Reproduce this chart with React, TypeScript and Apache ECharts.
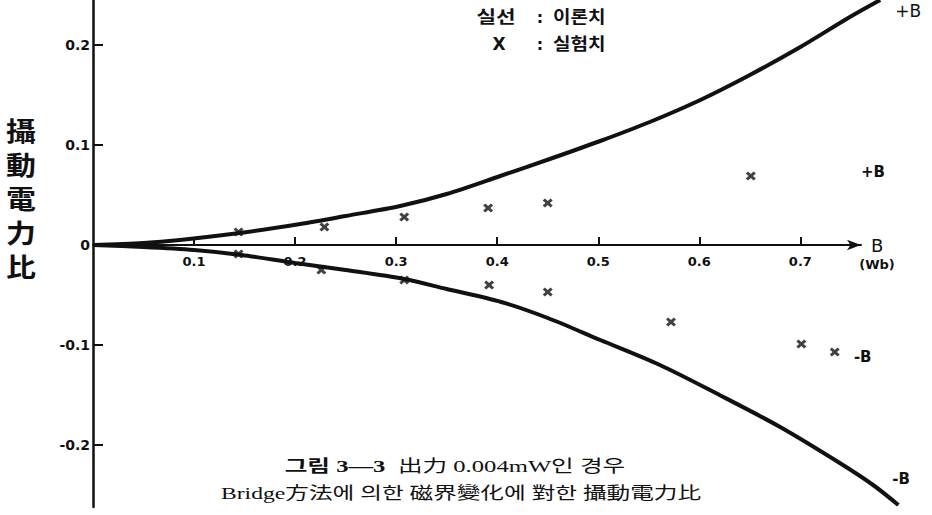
import React, { useEffect, useRef } from "react";
import * as echarts from "echarts";

// Theoretical curves (solid lines)
const upperCurveB = [0, 0.05, 0.086, 0.145, 0.205, 0.25, 0.304, 0.35, 0.403, 0.452, 0.502, 0.551, 0.601, 0.65, 0.7, 0.749, 0.779];
const upperCurveV = [0, 0.002, 0.005, 0.012, 0.021, 0.029, 0.039, 0.051, 0.069, 0.086, 0.104, 0.123, 0.145, 0.17, 0.198, 0.228, 0.245];
const lowerCurveB = [0, 0.05, 0.1, 0.147, 0.2, 0.25, 0.308, 0.35, 0.404, 0.45, 0.502, 0.561, 0.62, 0.68, 0.739, 0.772, 0.797];
const lowerCurveV = [0, -0.002, -0.005, -0.01, -0.018, -0.025, -0.034, -0.044, -0.057, -0.073, -0.095, -0.12, -0.15, -0.182, -0.218, -0.24, -0.26];

// Experimental values (x marks)
const upperExpB = [0.144, 0.229, 0.308, 0.391, 0.45, 0.651];
const upperExpV = [0.013, 0.018, 0.028, 0.037, 0.042, 0.069];
const lowerExpB = [0.144, 0.226, 0.308, 0.392, 0.45, 0.572, 0.701, 0.734];
const lowerExpV = [-0.009, -0.025, -0.035, -0.04, -0.047, -0.077, -0.099, -0.107];

// Axis ticks
const xTicks = [0.1, 0.2, 0.3, 0.4, 0.5, 0.6, 0.7];
const yTicks = [-0.2, -0.1, 0, 0.1, 0.2];

const X_MAX = 0.76; // end of drawn B axis (arrow)
const X_MAX_CURVES = 0.8; // room for the curves that run past the arrow
const Y_MIN = -0.262;
const Y_MAX = 0.245;

const GRID_LEFT = 93;
const GRID_H = 507;
const PX_PER_B = 1010.5;

const INK = "#111";
const HAND = "'DejaVu Sans', 'Noto Sans CJK KR', sans-serif";
const SERIF = "'Liberation Serif', 'Noto Sans CJK KR', serif";
const CROSS = "path://M0,2.2L2.2,0L5,2.8L7.8,0L10,2.2L7.2,5L10,7.8L7.8,10L5,7.2L2.2,10L0,7.8L2.8,5Z";

const zip = (a: number[], b: number[]) => a.map((v, i) => [v, b[i]]);

export default function App() {
  const ref = useRef<HTMLDivElement>(null);
  useEffect(() => {
    if (!ref.current) return;
    const chart = echarts.init(ref.current, undefined, { renderer: "svg" });
    const curveCommon = {
      type: "line" as const,
      xAxisIndex: 1,
      yAxisIndex: 1,
      smooth: 0.3,
      showSymbol: false,
      symbol: "none",
      clip: false,
      lineStyle: { color: INK, width: 4 },
      z: 3,
    };
    const scatterCommon = {
      type: "scatter" as const,
      xAxisIndex: 0,
      yAxisIndex: 0,
      symbol: CROSS,
      symbolSize: [10, 9],
      itemStyle: { color: INK },
      clip: false,
      z: 4,
    };
    const markLabel = (coord: number[], text: string, dx: number, size: number) => ({
      symbol: "circle",
      symbolSize: 0,
      silent: true,
      data: [
        {
          coord,
          label: {
            show: true,
            formatter: text,
            position: "right",
            distance: 0,
            offset: [dx, 0],
            color: INK,
            fontFamily: HAND,
            fontWeight: "bold",
            fontSize: size,
          },
        },
      ],
    });
    // x axis sits at value 0 of the y axis
    const zeroFromBottom = ((0 - Y_MIN) / (Y_MAX - Y_MIN)) * GRID_H;
    const hiddenAxis = { show: false, axisLine: { show: false }, axisTick: { show: false }, axisLabel: { show: false }, splitLine: { show: false } };
    chart.setOption({
      animation: false,
      backgroundColor: "#fff",
      grid: [
        { left: GRID_LEFT, top: 0, width: X_MAX * PX_PER_B, height: GRID_H, containLabel: false, outerBoundsMode: "none" },
        { left: GRID_LEFT, top: 0, width: X_MAX_CURVES * PX_PER_B, height: GRID_H, containLabel: false, outerBoundsMode: "none", show: false },
      ],
      xAxis: [
        {
          type: "value",
          gridIndex: 0,
          min: 0,
          max: X_MAX,
          position: "bottom",
          offset: -zeroFromBottom,
          name: "B",
          nameLocation: "end",
          nameGap: 10,
          nameTextStyle: { color: INK, fontFamily: HAND, fontSize: 18, padding: [0, 0, 5, 0], verticalAlign: "middle" },
          axisLine: {
            onZero: false,
            symbol: ["none", "arrow"],
            symbolSize: [8, 14],
            lineStyle: { color: INK, width: 2 },
          },
          axisTick: { show: true, inside: true, length: 8, customValues: xTicks, lineStyle: { color: INK, width: 2 } },
          axisLabel: {
            customValues: xTicks,
            color: INK,
            fontFamily: HAND,
            fontWeight: "bold",
            fontSize: 13,
            margin: 10,
            formatter: (v: number) => v.toFixed(1),
          },
          splitLine: { show: false },
        },
        { type: "value", gridIndex: 1, min: 0, max: X_MAX_CURVES, ...hiddenAxis },
      ],
      yAxis: [
        {
          type: "value",
          gridIndex: 0,
          min: Y_MIN,
          max: Y_MAX,
          axisLine: { onZero: false, lineStyle: { color: INK, width: 2.5 } },
          axisTick: { show: true, inside: true, length: 10, customValues: yTicks, lineStyle: { color: INK, width: 2 } },
          axisLabel: {
            customValues: yTicks,
            color: INK,
            fontFamily: HAND,
            fontWeight: "bold",
            fontSize: 14,
            margin: 3,
            formatter: (v: number) => (Math.abs(v) < 1e-9 ? "0" : v.toFixed(1)),
          },
          splitLine: { show: false },
        },
        { type: "value", gridIndex: 1, min: Y_MIN, max: Y_MAX, ...hiddenAxis },
      ],
      series: [
        {
          ...curveCommon,
          name: "이론치 +B",
          data: zip(upperCurveB, upperCurveV),
          endLabel: {
            show: true,
            formatter: "+B",
            distance: 5,
            offset: [10, 11],
            color: INK,
            fontFamily: HAND,
            fontSize: 17,
          },
        },
        {
          ...curveCommon,
          name: "이론치 -B",
          data: zip(lowerCurveB, lowerCurveV),
          endLabel: {
            show: true,
            formatter: "-B",
            distance: 5,
            offset: [-11, -26],
            color: INK,
            fontFamily: HAND,
            fontWeight: "bold",
            fontSize: 15,
          },
        },
        {
          ...scatterCommon,
          name: "실험치 +B",
          data: zip(upperExpB, upperExpV),
          markPoint: markLabel([0.755, 0.073], "+B", 5, 15),
        },
        {
          ...scatterCommon,
          name: "실험치 -B",
          data: zip(lowerExpB, lowerExpV),
          markPoint: markLabel([0.752, -0.112], "-B", 1, 15),
        },
      ],
      graphic: [
        // legend
        { type: "text", x: 496, y: 17, scaleX: 1.25, style: { text: "실선", font: `bold 17px ${HAND}`, fill: INK, align: "center", verticalAlign: "middle" } },
        { type: "text", x: 540, y: 17, style: { text: ":", font: `bold 16px ${HAND}`, fill: INK, align: "center", verticalAlign: "middle" } },
        { type: "text", x: 553, y: 17, scaleX: 1.12, style: { text: "이론치", font: `bold 17px ${HAND}`, fill: INK, align: "left", verticalAlign: "middle" } },
        { type: "text", x: 499, y: 44, style: { text: "X", font: `bold 17px ${HAND}`, fill: INK, align: "center", verticalAlign: "middle" } },
        { type: "text", x: 540, y: 44, style: { text: ":", font: `bold 16px ${HAND}`, fill: INK, align: "center", verticalAlign: "middle" } },
        { type: "text", x: 553, y: 44, scaleX: 1.12, style: { text: "실험치", font: `bold 17px ${HAND}`, fill: INK, align: "left", verticalAlign: "middle" } },
        // y-axis title
        {
          type: "text",
          x: 21,
          y: 113,
          scaleX: 1.15,
          style: {
            text: "攝\n動\n電\n力\n比",
            font: `bold 26px 'Noto Sans CJK KR', sans-serif`,
            lineHeight: 34,
            fill: INK,
            align: "center",
            verticalAlign: "top",
          },
        },
        // unit
        { type: "text", x: 877, y: 264, style: { text: "(Wb)", font: `bold 13px ${HAND}`, fill: INK, align: "center", verticalAlign: "middle" } },
        // caption
        {
          type: "text",
          x: 455,
          y: 466,
          scaleX: 1.45,
          style: {
            text: "{b|그림 3—3}  出力 0.004mW인 경우",
            font: `17px ${SERIF}`,
            fill: INK,
            align: "center",
            verticalAlign: "middle",
            rich: { b: { font: `bold 17px ${SERIF}`, fill: INK } },
          },
        },
        {
          type: "text",
          x: 461,
          y: 493,
          scaleX: 1.39,
          style: {
            text: "Bridge方法에 의한 磁界變化에 對한 攝動電力比",
            font: `17px ${SERIF}`,
            fill: INK,
            align: "center",
            verticalAlign: "middle",
          },
        },
      ],
    });
    return () => chart.dispose();
  }, []);
  return (
    <div
      ref={ref}
      style={{ position: "absolute", left: 0, top: 0, width: 932, height: 515, background: "#fff" }}
    />
  );
}
